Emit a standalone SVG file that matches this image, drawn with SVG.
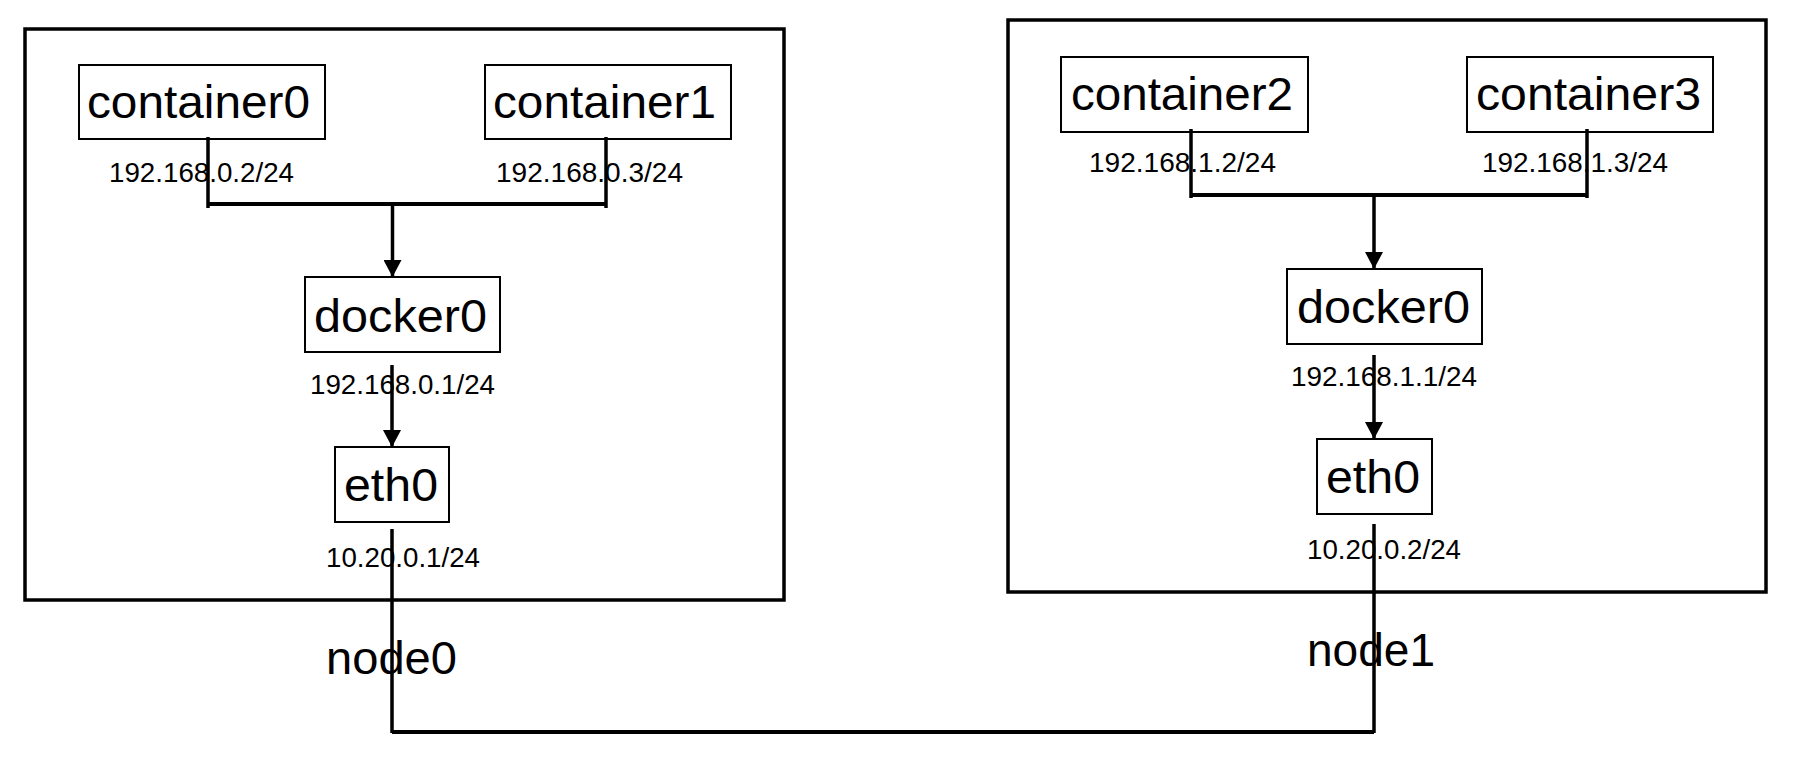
<svg xmlns="http://www.w3.org/2000/svg" width="1798" height="784" viewBox="0 0 1798 784">
<style>
.host{fill:none;stroke:#000;stroke-width:3.5}
.box{fill:#fff;stroke:#000;stroke-width:2}
.big{font-family:"Liberation Sans",Arial,Helvetica,sans-serif;font-size:47px;fill:#000}
.ip{font-family:"Liberation Sans",Arial,Helvetica,sans-serif;font-size:28px;fill:#000}
.ln{fill:none;stroke:#000;stroke-width:3.5}
.bus{fill:none;stroke:#000;stroke-width:4}
</style>
<defs>
<marker id="arr" markerUnits="userSpaceOnUse" markerWidth="20" markerHeight="18" refX="18" refY="9.5" orient="auto" viewBox="0 0 18 19">
<path d="M0,0 L18,9.5 L0,19 Z" fill="#000"/>
</marker>
</defs>
<rect width="1798" height="784" fill="#fff"/>

<g id="node0">
<rect class="host" x="25" y="29" width="759" height="571"/>
<text class="big" x="326" y="674" textLength="131" lengthAdjust="spacingAndGlyphs">node0</text>
</g>
<g id="node1">
<rect class="host" x="1008" y="20" width="758" height="572"/>
<text class="big" x="1307" y="666" textLength="128" lengthAdjust="spacingAndGlyphs">node1</text>
</g>

<g id="container0">
<rect class="box" x="79" y="65" width="246" height="74"/>
<text class="big" x="87" y="118" textLength="223" lengthAdjust="spacingAndGlyphs">container0</text>
</g>
<g id="container1">
<rect class="box" x="485" y="65" width="246" height="74"/>
<text class="big" x="493" y="118" textLength="223" lengthAdjust="spacingAndGlyphs">container1</text>
</g>
<g id="docker0-n0">
<rect class="box" x="305" y="277" width="195" height="75"/>
<text class="big" x="314" y="332" textLength="173" lengthAdjust="spacingAndGlyphs">docker0</text>
</g>
<g id="eth0-n0">
<rect class="box" x="335" y="447" width="114" height="75"/>
<text class="big" x="344" y="501" textLength="94" lengthAdjust="spacingAndGlyphs">eth0</text>
</g>

<g id="container2">
<rect class="box" x="1061" y="57" width="247" height="75"/>
<text class="big" x="1071" y="110" textLength="222" lengthAdjust="spacingAndGlyphs">container2</text>
</g>
<g id="container3">
<rect class="box" x="1467" y="57" width="246" height="75"/>
<text class="big" x="1476" y="110" textLength="225" lengthAdjust="spacingAndGlyphs">container3</text>
</g>
<g id="docker0-n1">
<rect class="box" x="1287" y="269" width="195" height="75"/>
<text class="big" x="1297" y="323" textLength="173" lengthAdjust="spacingAndGlyphs">docker0</text>
</g>
<g id="eth0-n1">
<rect class="box" x="1317" y="439" width="115" height="75"/>
<text class="big" x="1326" y="493" textLength="94" lengthAdjust="spacingAndGlyphs">eth0</text>
</g>

<g id="connectors">
<path class="ln" d="M208,137 V208"/>
<path class="ln" d="M606,137 V208"/>
<path class="bus" d="M208,204 H606"/>
<path class="ln" d="M392.5,204 V277" marker-end="url(#arr)"/>
<path class="ln" d="M392,365 V447" marker-end="url(#arr)"/>
<path class="ln" d="M392,529 V733"/>
<path class="bus" d="M392,732 H1374"/>
<path class="ln" d="M1374,524 V733"/>

<path class="ln" d="M1191,129 V198"/>
<path class="ln" d="M1587,129 V198"/>
<path class="bus" d="M1191,195 H1587"/>
<path class="ln" d="M1374,195 V269" marker-end="url(#arr)"/>
<path class="ln" d="M1374,355 V439" marker-end="url(#arr)"/>
</g>

<g id="labels">
<text class="ip" x="109" y="182" textLength="185" lengthAdjust="spacingAndGlyphs">192.168.0.2/24</text>
<text class="ip" x="496" y="182" textLength="187" lengthAdjust="spacingAndGlyphs">192.168.0.3/24</text>
<text class="ip" x="310" y="394" textLength="185" lengthAdjust="spacingAndGlyphs">192.168.0.1/24</text>
<text class="ip" x="326" y="567" textLength="154" lengthAdjust="spacingAndGlyphs">10.20.0.1/24</text>
<text class="ip" x="1089" y="172" textLength="187" lengthAdjust="spacingAndGlyphs">192.168.1.2/24</text>
<text class="ip" x="1482" y="172" textLength="186" lengthAdjust="spacingAndGlyphs">192.168.1.3/24</text>
<text class="ip" x="1291" y="386" textLength="186" lengthAdjust="spacingAndGlyphs">192.168.1.1/24</text>
<text class="ip" x="1307" y="559" textLength="154" lengthAdjust="spacingAndGlyphs">10.20.0.2/24</text>
</g>
</svg>
